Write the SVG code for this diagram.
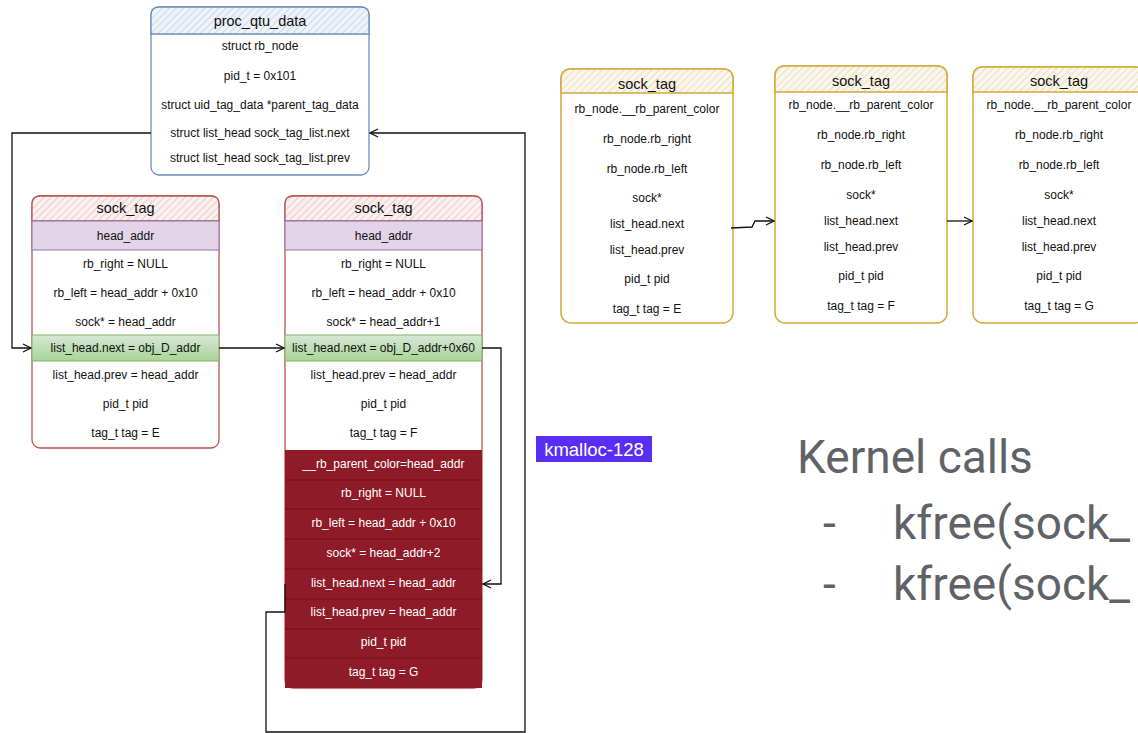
<svg xmlns="http://www.w3.org/2000/svg" width="1138" height="733" viewBox="0 0 1138 733">
<defs>
<style>
.t{font-family:"Liberation Sans",Arial,sans-serif;font-size:12px;text-anchor:middle;dominant-baseline:central;fill:#111}
.tw{fill:#fff}
.h{font-size:14.5px}
.big{font-family:Roboto,"Liberation Sans",sans-serif;font-size:46px;fill:#5f6368}
.conn{fill:none;stroke:#111;stroke-width:1.3;stroke-linejoin:miter}
.blue{fill:#fff;stroke:#6c8ebf;stroke-width:1.3}
.red{fill:#fff;stroke:#b85450;stroke-width:1.3}
.gold{fill:#fff;stroke:#d6a838;stroke-width:1.5}
.sep{stroke:#6e1119;stroke-width:1}
</style>
<pattern id="hBlue" patternUnits="userSpaceOnUse" width="5" height="5" patternTransform="rotate(45)"><rect width="5" height="5" fill="#eef3fa"/><line x1="0" y1="0" x2="0" y2="5" stroke="#a9bbd6" stroke-width="1"/></pattern>
<pattern id="hPink" patternUnits="userSpaceOnUse" width="5" height="5" patternTransform="rotate(45)"><rect width="5" height="5" fill="#fbf0f0"/><line x1="0" y1="0" x2="0" y2="5" stroke="#d8a8a8" stroke-width="1"/></pattern>
<pattern id="hGold" patternUnits="userSpaceOnUse" width="5" height="5" patternTransform="rotate(45)"><rect width="5" height="5" fill="#fbf6ea"/><line x1="0" y1="0" x2="0" y2="5" stroke="#d6c8a6" stroke-width="1"/></pattern>
<linearGradient id="gGreen" x1="0" y1="0" x2="0" y2="1"><stop offset="0" stop-color="#d5e8d4"/><stop offset="1" stop-color="#a9d49a"/></linearGradient>
<marker id="arr" markerUnits="userSpaceOnUse" markerWidth="12" markerHeight="10" refX="9" refY="5" orient="auto"><path d="M1,1 L9,5 L1,9" fill="none" stroke="#111" stroke-width="1.3"/></marker>
</defs>

<g id="proc_qtu_data">
<rect class="blue" x="151" y="7" width="218" height="168" rx="8"/>
<path d="M151,34 V15 Q151,7 159,7 H361 Q369,7 369,15 V34 Z" fill="url(#hBlue)" stroke="#6c8ebf" stroke-width="1.3"/>
<text class="t h" x="260" y="21">proc_qtu_data</text>
<text class="t" x="260" y="46">struct rb_node</text>
<text class="t" x="260" y="76">pid_t = 0x101</text>
<text class="t" x="260" y="105">struct uid_tag_data *parent_tag_data</text>
<text class="t" x="260" y="133">struct list_head sock_tag_list.next</text>
<text class="t" x="260" y="158">struct list_head sock_tag_list.prev</text>
</g>

<g id="sock_tag_E_left">
<rect class="red" x="32" y="196" width="187" height="252" rx="8"/>
<path d="M32,221 V204 Q32,196 40,196 H211 Q219,196 219,204 V221 Z" fill="url(#hPink)" stroke="#b85450" stroke-width="1.3"/>
<text class="t h" x="125.5" y="208">sock_tag</text>
<rect x="32" y="221" width="187" height="29" fill="#e1d5e7" stroke="#9673a6" stroke-width="1"/>
<text class="t" x="125.5" y="236">head_addr</text>
<text class="t" x="125.5" y="264">rb_right = NULL</text>
<text class="t" x="125.5" y="293">rb_left = head_addr + 0x10</text>
<text class="t" x="125.5" y="322">sock* = head_addr</text>
<rect x="32" y="335" width="187" height="26" fill="url(#gGreen)" stroke="#82b366" stroke-width="1"/>
<text class="t" x="125.5" y="348">list_head.next = obj_D_addr</text>
<text class="t" x="125.5" y="375">list_head.prev = head_addr</text>
<text class="t" x="125.5" y="404">pid_t pid</text>
<text class="t" x="125.5" y="433">tag_t tag = E</text>
</g>

<g id="sock_tag_F_G_middle">
<rect class="red" x="285" y="196" width="197" height="492" rx="8"/>
<path d="M285,221 V204 Q285,196 293,196 H474 Q482,196 482,204 V221 Z" fill="url(#hPink)" stroke="#b85450" stroke-width="1.3"/>
<text class="t h" x="383.5" y="208">sock_tag</text>
<rect x="285" y="221" width="197" height="29" fill="#e1d5e7" stroke="#9673a6" stroke-width="1"/>
<text class="t" x="383.5" y="236">head_addr</text>
<text class="t" x="383.5" y="264">rb_right = NULL</text>
<text class="t" x="383.5" y="293">rb_left = head_addr + 0x10</text>
<text class="t" x="383.5" y="322">sock* = head_addr+1</text>
<rect x="285" y="335" width="197" height="26" fill="url(#gGreen)" stroke="#82b366" stroke-width="1"/>
<text class="t" x="383.5" y="348">list_head.next = obj_D_addr+0x60</text>
<text class="t" x="383.5" y="375">list_head.prev = head_addr</text>
<text class="t" x="383.5" y="404">pid_t pid</text>
<text class="t" x="383.5" y="433">tag_t tag = F</text>
<rect x="285" y="450" width="197" height="238" fill="#8e1b27"/>
<line class="sep" x1="285" y1="480" x2="482" y2="480"/>
<line class="sep" x1="285" y1="509" x2="482" y2="509"/>
<line class="sep" x1="285" y1="539" x2="482" y2="539"/>
<line class="sep" x1="285" y1="569" x2="482" y2="569"/>
<line class="sep" x1="285" y1="599" x2="482" y2="599"/>
<line class="sep" x1="285" y1="629" x2="482" y2="629"/>
<line class="sep" x1="285" y1="658" x2="482" y2="658"/>
<text class="t tw" x="383.5" y="464">__rb_parent_color=head_addr</text>
<text class="t tw" x="383.5" y="493">rb_right = NULL</text>
<text class="t tw" x="383.5" y="523">rb_left = head_addr + 0x10</text>
<text class="t tw" x="383.5" y="553">sock* = head_addr+2</text>
<text class="t tw" x="383.5" y="583">list_head.next = head_addr</text>
<text class="t tw" x="383.5" y="612">list_head.prev = head_addr</text>
<text class="t tw" x="383.5" y="642">pid_t pid</text>
<text class="t tw" x="383.5" y="672">tag_t tag = G</text>
</g>

<g id="sock_tag_E_right">
<rect class="gold" x="561" y="69" width="172" height="254" rx="10"/>
<path d="M561,93 V79 Q561,69 571,69 H723 Q733,69 733,79 V93 Z" fill="url(#hGold)" stroke="#d6a838" stroke-width="1.5"/>
<text class="t h" x="647" y="84">sock_tag</text>
<text class="t" x="647" y="109">rb_node.__rb_parent_color</text>
<text class="t" x="647" y="139">rb_node.rb_right</text>
<text class="t" x="647" y="169">rb_node.rb_left</text>
<text class="t" x="647" y="198">sock*</text>
<text class="t" x="647" y="224">list_head.next</text>
<text class="t" x="647" y="250">list_head.prev</text>
<text class="t" x="647" y="279">pid_t pid</text>
<text class="t" x="647" y="309">tag_t tag = E</text>
</g>

<g id="sock_tag_F_right">
<rect class="gold" x="775" y="66" width="172" height="257" rx="10"/>
<path d="M775,92 V76 Q775,66 785,66 H937 Q947,66 947,76 V92 Z" fill="url(#hGold)" stroke="#d6a838" stroke-width="1.5"/>
<text class="t h" x="861" y="81">sock_tag</text>
<text class="t" x="861" y="105">rb_node.__rb_parent_color</text>
<text class="t" x="861" y="135">rb_node.rb_right</text>
<text class="t" x="861" y="165">rb_node.rb_left</text>
<text class="t" x="861" y="195">sock*</text>
<text class="t" x="861" y="221">list_head.next</text>
<text class="t" x="861" y="247">list_head.prev</text>
<text class="t" x="861" y="276">pid_t pid</text>
<text class="t" x="861" y="306">tag_t tag = F</text>
</g>

<g id="sock_tag_G_right">
<rect class="gold" x="973" y="67" width="172" height="256" rx="10"/>
<path d="M973,92 V77 Q973,67 983,67 H1135 Q1145,67 1145,77 V92 Z" fill="url(#hGold)" stroke="#d6a838" stroke-width="1.5"/>
<text class="t h" x="1059" y="81">sock_tag</text>
<text class="t" x="1059" y="105">rb_node.__rb_parent_color</text>
<text class="t" x="1059" y="135">rb_node.rb_right</text>
<text class="t" x="1059" y="165">rb_node.rb_left</text>
<text class="t" x="1059" y="195">sock*</text>
<text class="t" x="1059" y="221">list_head.next</text>
<text class="t" x="1059" y="247">list_head.prev</text>
<text class="t" x="1059" y="276">pid_t pid</text>
<text class="t" x="1059" y="306">tag_t tag = G</text>
</g>

<g id="connectors">
<path class="conn" d="M151,133 L12,133 L12,348 L31,348" marker-end="url(#arr)"/>
<path class="conn" d="M219,348 L284,348" marker-end="url(#arr)"/>
<path class="conn" d="M482,348 L501,348 L501,584 L483,584" marker-end="url(#arr)"/>
<path class="conn" d="M285,584 L285,612 L266,612 L266,732 L525,732 L525,133 L370,133" marker-end="url(#arr)"/>
<path class="conn" d="M731,228 L752,227 L755,221 L774,221" marker-end="url(#arr)"/>
<path class="conn" d="M947,221 L972,221" marker-end="url(#arr)"/>
</g>

<g id="kmalloc_label">
<rect x="536" y="436" width="116" height="26" fill="#5a2ef2"/>
<text class="t tw" x="594" y="449.5" style="font-size:18.5px">kmalloc-128</text>
</g>

<g id="kernel_calls">
<text class="big" x="797" y="473">Kernel calls</text>
<text class="big" x="823" y="539">-</text>
<text class="big" x="893" y="539">kfree(sock_</text>
<text class="big" x="823" y="600">-</text>
<text class="big" x="893" y="600">kfree(sock_</text>
</g>
</svg>
